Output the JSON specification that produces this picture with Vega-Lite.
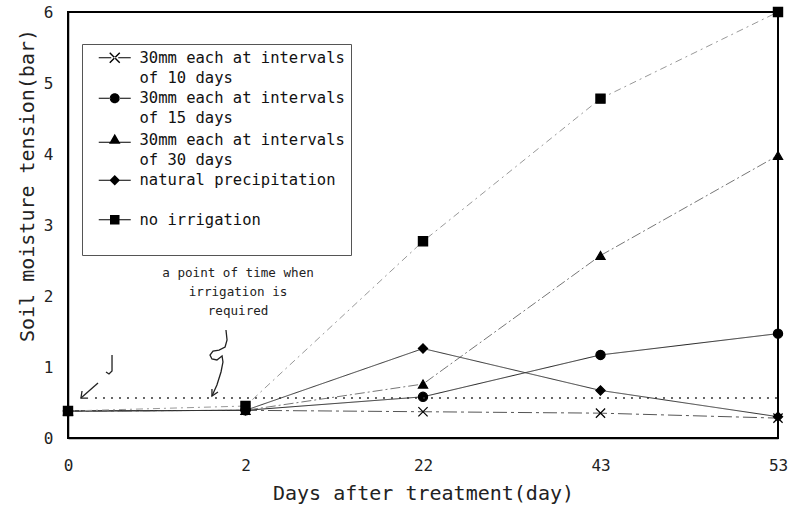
{
  "$schema": "https://vega.github.io/schema/vega-lite/v6.json",
  "width": 710,
  "height": 426,
  "autosize": "none",
  "padding": {"left": 68, "top": 12, "right": 11, "bottom": 73},
  "background": "white",
  "config": {
    "font": "DejaVu Sans Mono",
    "view": {"stroke": "black", "strokeWidth": 2},
    "axis": {"domainColor": "black", "domainWidth": 1.5, "grid": false, "labelColor": "#222", "titleColor": "#222", "labelFont": "DejaVu Sans Mono", "titleFont": "DejaVu Sans Mono", "titleFontWeight": "normal"},
    "style": {"guide-label": {"lineHeight": 20}}
  },
  "datasets": {
    "tension": [
      {"series": "30mm each at intervals of 10 days", "day": 0, "value": 0.38},
      {"series": "30mm each at intervals of 10 days", "day": 2, "value": 0.39},
      {"series": "30mm each at intervals of 10 days", "day": 22, "value": 0.37},
      {"series": "30mm each at intervals of 10 days", "day": 43, "value": 0.35},
      {"series": "30mm each at intervals of 10 days", "day": 53, "value": 0.28},
      {"series": "30mm each at intervals of 15 days", "day": 0, "value": 0.38},
      {"series": "30mm each at intervals of 15 days", "day": 2, "value": 0.39},
      {"series": "30mm each at intervals of 15 days", "day": 22, "value": 0.58},
      {"series": "30mm each at intervals of 15 days", "day": 43, "value": 1.17},
      {"series": "30mm each at intervals of 15 days", "day": 53, "value": 1.47},
      {"series": "30mm each at intervals of 30 days", "day": 0, "value": 0.38},
      {"series": "30mm each at intervals of 30 days", "day": 2, "value": 0.39},
      {"series": "30mm each at intervals of 30 days", "day": 22, "value": 0.76},
      {"series": "30mm each at intervals of 30 days", "day": 43, "value": 2.57},
      {"series": "30mm each at intervals of 30 days", "day": 53, "value": 3.98},
      {"series": "natural precipitation", "day": 0, "value": 0.38},
      {"series": "natural precipitation", "day": 2, "value": 0.39},
      {"series": "natural precipitation", "day": 22, "value": 1.26},
      {"series": "natural precipitation", "day": 43, "value": 0.67},
      {"series": "natural precipitation", "day": 53, "value": 0.3},
      {"series": "no irrigation", "day": 0, "value": 0.38},
      {"series": "no irrigation", "day": 2, "value": 0.45},
      {"series": "no irrigation", "day": 22, "value": 2.77},
      {"series": "no irrigation", "day": 43, "value": 4.78},
      {"series": "no irrigation", "day": 53, "value": 6.0}
    ],
    "threshold": [
      {"pos": 0.152, "value": 0.563},
      {"pos": 4.0, "value": 0.563}
    ],
    "strokes": [
      {"g": "a1", "i": 0, "pos": 0.169, "value": 0.775},
      {"g": "a1", "i": 1, "pos": 0.073, "value": 0.563},
      {"g": "a1h", "i": 0, "pos": 0.113, "value": 0.563},
      {"g": "a1h", "i": 1, "pos": 0.073, "value": 0.563},
      {"g": "a1h", "i": 2, "pos": 0.079, "value": 0.662},
      {"g": "j", "i": 0, "pos": 0.248, "value": 1.169},
      {"g": "j", "i": 1, "pos": 0.248, "value": 0.944},
      {"g": "j", "i": 2, "pos": 0.231, "value": 0.901},
      {"g": "j", "i": 3, "pos": 0.214, "value": 0.93},
      {"g": "a2", "i": 0, "pos": 0.89, "value": 1.521},
      {"g": "a2", "i": 1, "pos": 0.896, "value": 1.38},
      {"g": "a2", "i": 2, "pos": 0.885, "value": 1.282},
      {"g": "a2", "i": 3, "pos": 0.851, "value": 1.239},
      {"g": "a2", "i": 4, "pos": 0.817, "value": 1.225},
      {"g": "a2", "i": 5, "pos": 0.8, "value": 1.169},
      {"g": "a2", "i": 6, "pos": 0.811, "value": 1.113},
      {"g": "a2", "i": 7, "pos": 0.839, "value": 1.099},
      {"g": "a2", "i": 8, "pos": 0.868, "value": 1.155},
      {"g": "a2", "i": 9, "pos": 0.873, "value": 1.07},
      {"g": "a2", "i": 10, "pos": 0.862, "value": 0.93},
      {"g": "a2", "i": 11, "pos": 0.839, "value": 0.746},
      {"g": "a2", "i": 12, "pos": 0.811, "value": 0.592},
      {"g": "a2h", "i": 0, "pos": 0.811, "value": 0.69},
      {"g": "a2h", "i": 1, "pos": 0.811, "value": 0.592},
      {"g": "a2h", "i": 2, "pos": 0.845, "value": 0.648}
    ],
    "notes": [
      {"pos": 0.958, "value": 2.324, "label": "a point of time when\nirrigation is\nrequired"}
    ]
  },
  "encoding": {
    "y": {
      "field": "value",
      "type": "quantitative",
      "scale": {"domain": [0, 6], "nice": false, "zero": true},
      "axis": {"title": "Soil moisture tension(bar)", "values": [0, 1, 2, 3, 4, 5, 6], "ticks": false, "tickSize": 0, "labelFontSize": 16, "labelPadding": 15, "titleFontSize": 20, "titlePadding": 6, "titleY": 173}
    }
  },
  "layer": [
    {
      "data": {"name": "tension"},
      "encoding": {
        "x": {
          "field": "day",
          "type": "ordinal",
          "scale": {"type": "point", "padding": 0, "domain": [0, 2, 22, 43, 53]},
          "axis": {"title": "Days after treatment(day)", "labelAngle": 0, "ticks": false, "tickSize": 0, "labelFontSize": 16, "labelPadding": 19, "titleFontSize": 20, "titlePadding": 10}
        }
      },
      "layer": [
        {
          "mark": {"type": "line", "strokeWidth": 1},
          "encoding": {
            "detail": {"field": "series"},
            "color": {"field": "series", "type": "nominal", "legend": null, "scale": {"domain": ["30mm each at intervals of 10 days", "30mm each at intervals of 15 days", "30mm each at intervals of 30 days", "natural precipitation", "no irrigation"], "range": ["#555555", "#222222", "#777777", "#333333", "#999999"]}},
            "strokeDash": {"field": "series", "type": "nominal", "legend": null, "scale": {"domain": ["30mm each at intervals of 10 days", "30mm each at intervals of 15 days", "30mm each at intervals of 30 days", "natural precipitation", "no irrigation"], "range": [[14, 4, 3, 4], [1, 0], [10, 3, 2, 3], [1, 0], [7, 4, 2, 4]]}}
          }
        },
        {
          "mark": {"type": "point", "filled": true, "fill": "black", "stroke": "black", "strokeWidth": 1.2, "opacity": 1, "size": 85},
          "encoding": {
            "shape": {"field": "series", "type": "nominal", "legend": null, "scale": {"domain": ["30mm each at intervals of 10 days", "30mm each at intervals of 15 days", "30mm each at intervals of 30 days", "natural precipitation", "no irrigation"], "range": ["M-1,-1L1,1M-1,1L1,-1", "circle", "triangle-up", "diamond", "square"]}}
          }
        },
        {
          "transform": [{"filter": "false"}],
          "mark": {"type": "point", "filled": true, "fill": "black", "color": "black", "opacity": 1},
          "encoding": {
            "shape": {
              "field": "series",
              "type": "nominal",
              "scale": {"domain": ["30mm each at intervals of 10 days", "30mm each at intervals of 15 days", "30mm each at intervals of 30 days", "natural precipitation", "no irrigation"], "range": [
                "M-3.2,-0.12H-0.7V0.12H-3.2ZM0.7,-0.12H3.2V0.12H0.7ZM-1.1,-0.9L-0.9,-1.1L1.1,0.9L0.9,1.1ZM-1.1,0.9L-0.9,1.1L1.1,-0.9L0.9,-1.1Z",
                "M-3.2,-0.12H-0.9V0.12H-3.2ZM0.9,-0.12H3.2V0.12H0.9ZM-1,0A1,1 0 1,0 1,0A1,1 0 1,0 -1,0Z",
                "M-3.2,0.38H-0.9V0.62H-3.2ZM0.9,0.38H3.2V0.62H0.9ZM0,-1.2L1.15,0.8L-1.15,0.8Z",
                "M-3.2,-0.12H-0.9V0.12H-3.2ZM0.9,-0.12H3.2V0.12H0.9ZM0,-1.05L1.05,0L0,1.05L-1.05,0Z",
                "M-3.2,-0.12H-0.9V0.12H-3.2ZM0.9,-0.12H3.2V0.12H0.9ZM-0.95,-0.95H0.95V0.95H-0.95Z"
              ]},
              "legend": {
                "title": null,
                "orient": "none",
                "legendX": 14,
                "legendY": 32,
                "padding": 6,
                "strokeColor": "#555555",
                "fillColor": "white",
                "labelFont": "DejaVu Sans Mono",
                "labelFontSize": 15.5,
                "labelColor": "#111111",
                "labelLimit": 400,
                "labelBaseline": "middle",
                "labelExpr": "length(datum.label) > 22 ? [slice(datum.label, 0, 22), slice(datum.label, 23)] : [datum.label, '']",
                "symbolSize": 100,
                "symbolOffset": 19,
                "labelOffset": 17,
                "symbolFillColor": "black",
                "rowPadding": 2.5
              }
            }
          }
        }
      ],
      "resolve": {"scale": {"shape": "independent"}}
    },
    {
      "data": {"name": "threshold"},
      "mark": {"type": "line", "color": "#333333", "strokeWidth": 1.6, "strokeDash": [2, 6]},
      "encoding": {
        "x": {"field": "pos", "type": "quantitative", "scale": {"domain": [0, 4], "nice": false, "zero": false}, "axis": null}
      }
    },
    {
      "data": {"name": "strokes"},
      "mark": {"type": "line", "color": "#222222", "strokeWidth": 1.3},
      "encoding": {
        "x": {"field": "pos", "type": "quantitative", "scale": {"domain": [0, 4], "nice": false, "zero": false}, "axis": null},
        "detail": {"field": "g"},
        "order": {"field": "i", "type": "quantitative"}
      }
    },
    {
      "data": {"name": "notes"},
      "mark": {"type": "text", "font": "DejaVu Sans Mono", "fontSize": 12.6, "lineBreak": "\n", "lineHeight": 19, "align": "center", "baseline": "middle", "color": "#222222"},
      "encoding": {
        "x": {"field": "pos", "type": "quantitative", "scale": {"domain": [0, 4], "nice": false, "zero": false}, "axis": null},
        "text": {"field": "label"}
      }
    }
  ],
  "resolve": {"scale": {"x": "independent"}}
}
